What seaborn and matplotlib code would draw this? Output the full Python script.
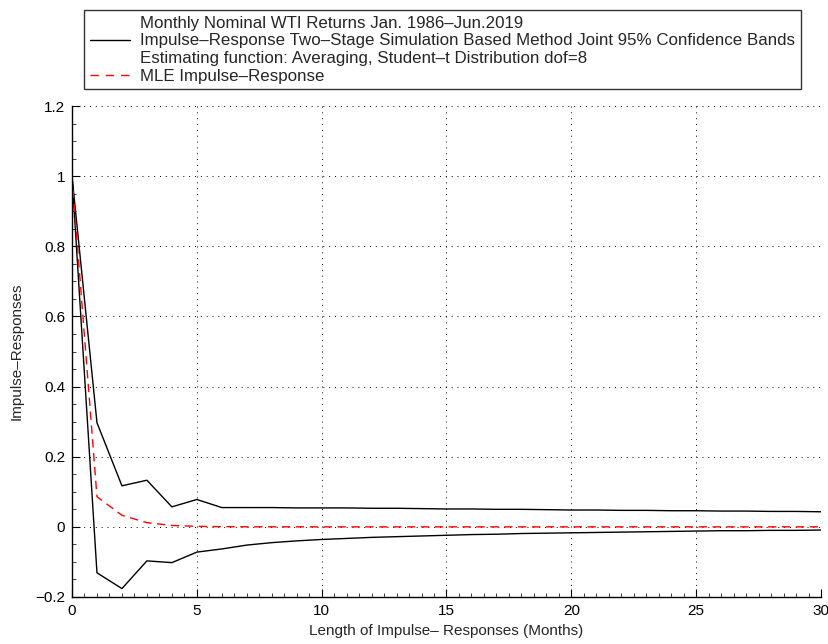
import numpy as np
import pandas as pd
import seaborn as sns
import matplotlib.pyplot as plt
from matplotlib.lines import Line2D
from matplotlib.ticker import MultipleLocator

sns.set_theme(style="white")
plt.rcParams['font.family'] = ['Liberation Sans', 'DejaVu Sans']

# horizon (months)
horizon = list(range(31))

# joint 95% confidence bands
upper_band = [1.0, 0.297, 0.117, 0.133, 0.057, 0.078, 0.055, 0.055, 0.055, 0.054,
              0.054, 0.054, 0.053, 0.053, 0.052, 0.051, 0.051, 0.050, 0.050, 0.049,
              0.048, 0.048, 0.047, 0.047, 0.046, 0.046, 0.045, 0.045, 0.044, 0.044,
              0.043]
lower_band = [1.0, -0.131, -0.176, -0.097, -0.102, -0.072, -0.063, -0.052, -0.045, -0.040,
              -0.036, -0.033, -0.030, -0.028, -0.026, -0.024, -0.022, -0.021, -0.019, -0.018,
              -0.017, -0.016, -0.015, -0.014, -0.013, -0.012, -0.011, -0.011, -0.010, -0.010,
              -0.009]
# MLE impulse response
mle = [1.0, 0.086, 0.033, 0.012, 0.004, 0.0015, 0.0006, 0.0002, 0.0001, 0.0, 0.0,
       0.0, 0.0, 0.0, 0.0, 0.0, 0.0, 0.0, 0.0, 0.0, 0.0,
       0.0, 0.0, 0.0, 0.0, 0.0, 0.0, 0.0, 0.0, 0.0, 0.0]

xticks = [0, 5, 10, 15, 20, 25, 30]
yticks = [-0.2, 0, 0.2, 0.4, 0.6, 0.8, 1, 1.2]
ytick_labels = ['\u22120.2', '0', '0.2', '0.4', '0.6', '0.8', '1', '1.2']

df = pd.DataFrame({'h': horizon, 'upper': upper_band, 'lower': lower_band, 'mle': mle})

fig = plt.figure(figsize=(8.29, 6.44), dpi=100)
ax = fig.add_axes([72 / 829, 1 - 597 / 644, (821 - 72) / 829, (597 - 106) / 644])

sns.lineplot(data=df, x='h', y='upper', ax=ax, color='black', linewidth=1.0)
sns.lineplot(data=df, x='h', y='lower', ax=ax, color='black', linewidth=1.0)
sns.lineplot(data=df, x='h', y='mle', ax=ax, color='red', linewidth=1.0,
             linestyle=(0, (6, 4)))

ax.set_xlim(0, 30)
ax.set_ylim(-0.2, 1.2)
ax.set_xticks(xticks)
ax.set_xticklabels([str(t) for t in xticks])
ax.set_yticks(yticks)
ax.set_yticklabels(ytick_labels)
ax.xaxis.set_minor_locator(MultipleLocator(0.5))
ax.yaxis.set_minor_locator(MultipleLocator(0.05))
ax.tick_params(axis='both', which='major', direction='in', length=6, width=0.8,
               labelsize=11, colors='black', pad=5)
ax.tick_params(axis='both', which='minor', direction='in', length=3, width=0.6)
ax.tick_params(bottom=True, left=True, which='both')
ax.grid(True, which='major', color='black', linestyle=(0, (1, 5)), linewidth=0.7)
for side in ['top', 'right']:
    ax.spines[side].set_visible(False)
for side in ['left', 'bottom']:
    ax.spines[side].set_color('black')
    ax.spines[side].set_linewidth(1.0)

ax.set_xlabel('Length of Impulse\u2013 Responses (Months)', fontsize=11, labelpad=4)
ax.set_ylabel('Impulse\u2013Responses', fontsize=11, labelpad=8)

handles = [
    Line2D([], [], color='none'),
    Line2D([], [], color='black', linewidth=1.0),
    Line2D([], [], color='none'),
    Line2D([], [], color='red', linewidth=1.0, linestyle=(0, (6, 5))),
]
labels = [
    'Monthly Nominal WTI Returns Jan. 1986\u2013Jun.2019',
    'Impulse\u2013Response Two\u2013Stage Simulation Based Method Joint 95% Confidence Bands',
    'Estimating function: Averaging, Student\u2013t Distribution dof=8',
    'MLE Impulse\u2013Response',
]
leg = fig.legend(handles, labels, loc='upper left', bbox_to_anchor=(84 / 829, 1 - 10 / 644),
                 fontsize=12.2, frameon=True, fancybox=False, handlelength=2.35,
                 handletextpad=0.6, labelspacing=0.15, borderpad=0.35, borderaxespad=0)
leg.get_frame().set_edgecolor('black')
leg.get_frame().set_linewidth(1.0)

fig.savefig('out.png', dpi=100)
